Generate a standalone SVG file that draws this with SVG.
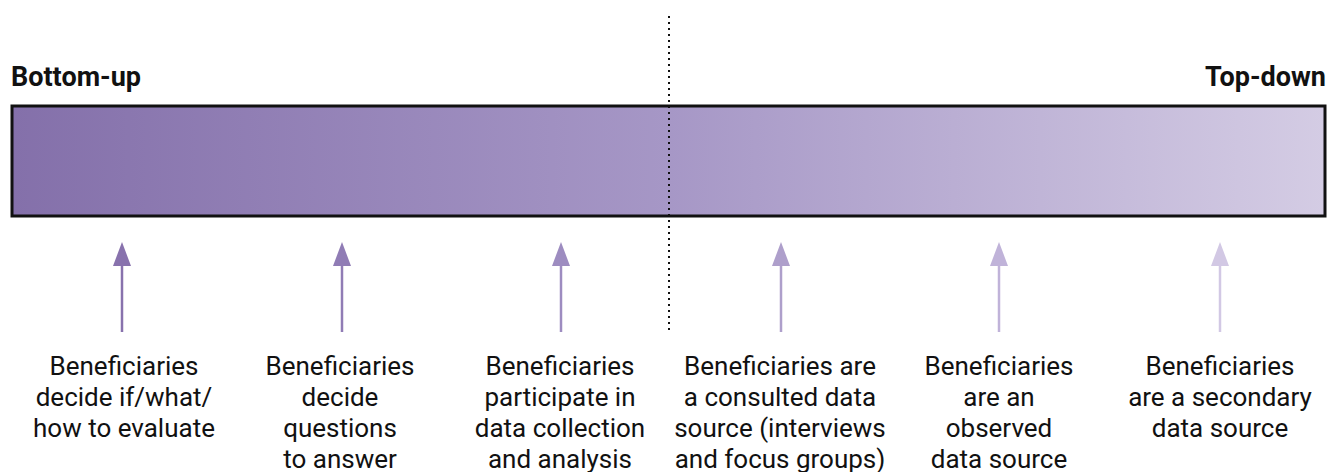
<svg xmlns="http://www.w3.org/2000/svg" width="1330" height="472" viewBox="0 0 1330 472">
<defs>
<linearGradient id="bar" x1="0" y1="0" x2="1" y2="0">
<stop offset="0" stop-color="#8470aa"/>
<stop offset="0.5" stop-color="#a697c6"/>
<stop offset="1" stop-color="#d4cce4"/>
</linearGradient>
</defs>
<style>
.lbl{font-family:Roboto,"Liberation Sans",sans-serif;font-size:26px;fill:#111;text-anchor:middle}
.ttl{font-family:Roboto,"Liberation Sans",sans-serif;font-size:27px;font-weight:bold;fill:#111}
.sh{stroke-width:2.5}
</style>
<rect width="1330" height="472" fill="#fff"/>
<g id="bottom-up"><text class="ttl" x="11" y="86">Bottom-up</text></g>
<g id="top-down"><text class="ttl" x="1326" y="86" text-anchor="end">Top-down</text></g>
<g id="spectrum-bar"><rect x="12" y="106" width="1313" height="110" fill="url(#bar)" stroke="#111" stroke-width="3"/></g>
<g id="connectors">
<line x1="669" y1="16" x2="669" y2="333" stroke="#111" stroke-width="2" stroke-dasharray="2 4"/>
<g fill="#8872ad" stroke="#8872ad"><line class="sh" x1="122" y1="264" x2="122" y2="332"/><polygon stroke="none" points="122,242 113,266 131,266"/></g>
<g fill="#907cb5" stroke="#907cb5"><line class="sh" x1="342" y1="264" x2="342" y2="332"/><polygon stroke="none" points="342,242 333,266 351,266"/></g>
<g fill="#9d8cc0" stroke="#9d8cc0"><line class="sh" x1="561" y1="264" x2="561" y2="332"/><polygon stroke="none" points="561,242 552,266 570,266"/></g>
<g fill="#ae9fcb" stroke="#ae9fcb"><line class="sh" x1="781" y1="264" x2="781" y2="332"/><polygon stroke="none" points="781,242 772,266 790,266"/></g>
<g fill="#c0b3d9" stroke="#c0b3d9"><line class="sh" x1="999" y1="264" x2="999" y2="332"/><polygon stroke="none" points="999,242 990,266 1008,266"/></g>
<g fill="#d2c8e4" stroke="#d2c8e4"><line class="sh" x1="1220" y1="264" x2="1220" y2="332"/><polygon stroke="none" points="1220,242 1211,266 1229,266"/></g>
</g>
<g id="node1"><text class="lbl" x="124"><tspan x="124" y="375">Beneficiaries</tspan><tspan x="124" y="406">decide if/what/</tspan><tspan x="124" y="437">how to evaluate</tspan></text></g>
<g id="node2"><text class="lbl" x="340"><tspan x="340" y="375">Beneficiaries</tspan><tspan x="340" y="406">decide</tspan><tspan x="340" y="437">questions</tspan><tspan x="340" y="468">to answer</tspan></text></g>
<g id="node3"><text class="lbl" x="560"><tspan x="560" y="375">Beneficiaries</tspan><tspan x="560" y="406">participate in</tspan><tspan x="560" y="437">data collection</tspan><tspan x="560" y="468">and analysis</tspan></text></g>
<g id="node4"><text class="lbl" x="780"><tspan x="780" y="375">Beneficiaries are</tspan><tspan x="780" y="406">a consulted data</tspan><tspan x="780" y="437">source (interviews</tspan><tspan x="780" y="468">and focus groups)</tspan></text></g>
<g id="node5"><text class="lbl" x="999"><tspan x="999" y="375">Beneficiaries</tspan><tspan x="999" y="406">are an</tspan><tspan x="999" y="437">observed</tspan><tspan x="999" y="468">data source</tspan></text></g>
<g id="node6"><text class="lbl" x="1220"><tspan x="1220" y="375">Beneficiaries</tspan><tspan x="1220" y="406">are a secondary</tspan><tspan x="1220" y="437">data source</tspan></text></g>
</svg>
